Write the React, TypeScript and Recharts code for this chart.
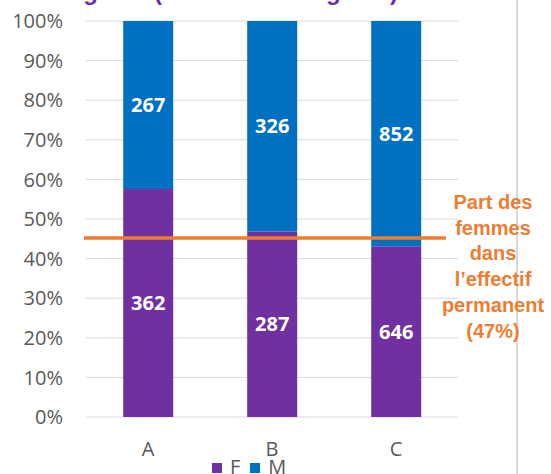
import React from "react";
import {
  BarChart,
  Bar,
  XAxis,
  YAxis,
  CartesianGrid,
  ReferenceLine,
  LabelList,
} from "recharts";

const categories = ["A", "B", "C"];
const femmes = [362, 287, 646];
const hommes = [267, 326, 852];
const partFemmes = 0.452;
const yTicks = [0, 0.1, 0.2, 0.3, 0.4, 0.5, 0.6, 0.7, 0.8, 0.9, 1];
const titleText = "agents (en nombre d\u2019agents)";
const noteLines = ["Part des", "femmes", "dans", "l\u2019effectif", "permanent", "(47%)"];
const legendItems = ["F", "M"];

const data = categories.map((c, i) => ({ name: c, F: femmes[i], M: hommes[i] }));

const PURPLE = "#7030A0";
const BLUE = "#0070C0";
const ORANGE = "#ED7D31";
const legendColors = [PURPLE, BLUE];

const OrangeLine = (p: any) => (
  <line
    x1={p.x1 - 2}
    y1={p.y1}
    x2={p.x2 - 12}
    y2={p.y2}
    stroke={ORANGE}
    strokeWidth={3.5}
  />
);

export default function App() {
  return (
    <div
      style={{
        position: "absolute",
        left: 0,
        top: 0,
        width: 551,
        height: 474,
        overflow: "hidden",
        background: "#fff",
      }}
    >
      <div
        style={{
          position: "absolute",
          left: 70,
          top: -20,
          fontFamily: "'Liberation Sans', Arial, sans-serif",
          fontWeight: "bold",
          fontSize: 24,
          lineHeight: "24px",
          color: PURPLE,
          whiteSpace: "nowrap",
        }}
      >
        {titleText}
      </div>
      <div
        style={{
          position: "absolute",
          left: 516,
          top: 0,
          width: 2,
          height: 474,
          background: "#d9d9d9",
        }}
      />
      <BarChart
        width={551}
        height={474}
        data={data}
        stackOffset="expand"
        barCategoryGap="30%"
        margin={{ top: 21, right: 93, bottom: 27, left: 0 }}
      >
        <CartesianGrid vertical={false} stroke="#d9d9d9" strokeWidth={1} />
        <XAxis
          dataKey="name"
          height={30}
          axisLine={false}
          tickLine={false}
          tickMargin={19}
          tick={{ fill: "#595959", fontSize: 20, fontFamily: "'Open Sans', sans-serif" }}
        />
        <YAxis
          width={86}
          domain={[0, 1]}
          ticks={yTicks}
          interval={0}
          axisLine={false}
          tickLine={false}
          tickMargin={17}
          tickFormatter={(v: number) => `${Math.round(v * 100)}%`}
          tick={{ fill: "#595959", fontSize: 20, fontFamily: "'Open Sans', sans-serif" }}
        />
        <Bar dataKey="F" stackId="s" fill={PURPLE} isAnimationActive={false}>
          <LabelList
            dataKey="F"
            position="center"
            fill="#fff"
            style={{ fontFamily: "'Open Sans', sans-serif", fontWeight: "bold", fontSize: 20 }}
          />
        </Bar>
        <Bar dataKey="M" stackId="s" fill={BLUE} isAnimationActive={false}>
          <LabelList
            dataKey="M"
            position="center"
            fill="#fff"
            style={{ fontFamily: "'Open Sans', sans-serif", fontWeight: "bold", fontSize: 20 }}
          />
        </Bar>
        <ReferenceLine y={partFemmes} shape={OrangeLine} />
      </BarChart>
      <div
        style={{
          position: "absolute",
          left: 212,
          top: 457,
          display: "flex",
          alignItems: "flex-start",
          fontFamily: "'Open Sans', sans-serif",
          fontSize: 20,
          color: "#595959",
          lineHeight: "20px",
        }}
      >
        {legendItems.map((l, i) => (
          <div key={l} style={{ display: "flex", alignItems: "flex-start", marginRight: 10 }}>
            <div
              style={{ width: 10, height: 10, background: legendColors[i], marginTop: 6, marginRight: 8 }}
            />
            <span>{l}</span>
          </div>
        ))}
      </div>
      <div
        style={{
          position: "absolute",
          left: 433,
          top: 190,
          width: 120,
          textAlign: "center",
          fontFamily: "'Liberation Sans', Arial, sans-serif",
          fontWeight: "bold",
          fontSize: 20,
          lineHeight: "25.7px",
          color: ORANGE,
        }}
      >
        {noteLines.map((l) => (
          <div key={l}>{l}</div>
        ))}
      </div>
    </div>
  );
}
